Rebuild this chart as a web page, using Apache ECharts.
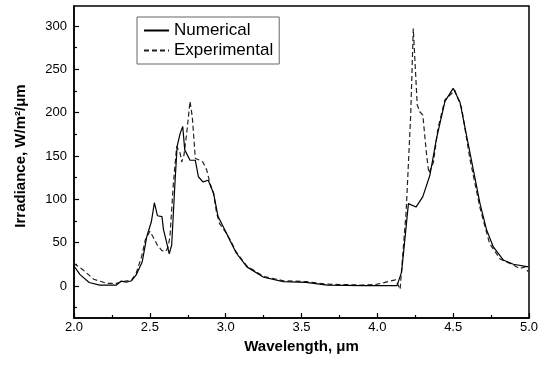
<!DOCTYPE html>
<html>
<head>
<meta charset="utf-8">
<script src="https://cdn.jsdelivr.net/npm/echarts@6/dist/echarts.min.js"></script>
<style>
html,body{margin:0;padding:0;background:#fff;}
#chart{width:544px;height:371px;}
</style>
</head>
<body>
<div id="chart"></div>
<script>
var numX = [2.00,2.04,2.10,2.17,2.28,2.31,2.35,2.38,2.41,2.45,2.48,2.51,2.53,2.55,2.58,2.59,2.615,2.628,2.644,2.666,2.68,2.70,2.717,2.73,2.765,2.80,2.82,2.85,2.885,2.92,2.95,2.985,3.03,3.07,3.14,3.25,3.38,3.53,3.67,3.90,4.13,4.16,4.205,4.255,4.30,4.347,4.39,4.446,4.50,4.545,4.59,4.633,4.677,4.72,4.765,4.83,4.897,4.995];
var numY = [23,13,4,1,1,5.5,4.5,6,12.7,28,57,74,96,81,80,65,47,37,47,120,161,176,184,157,145,145,126,120,122,107,80,68,52,38,22,10,5,4,1,0.4,0.4,16,95,91,103,128,170,213,228,212,172,134,95,65,45,30,25,22];
var expX = [2.00,2.06,2.13,2.215,2.28,2.325,2.38,2.41,2.446,2.47,2.50,2.52,2.55,2.58,2.607,2.62,2.633,2.655,2.677,2.70,2.71,2.725,2.743,2.765,2.78,2.80,2.83,2.85,2.875,2.897,2.92,2.94,2.96,3.00,3.03,3.07,3.14,3.25,3.38,3.53,3.67,3.90,4.00,4.12,4.15,4.19,4.22,4.237,4.263,4.28,4.30,4.325,4.34,4.37,4.40,4.446,4.49,4.51,4.556,4.61,4.677,4.74,4.81,4.875,4.94,4.97,4.995];
var expY = [26,18.5,7.7,3,3,5,7,14.6,34,53,63,57,47,40.7,40,45,57,118,161,153,143,151,176,213,195,147,145,143,134,118,107,84,72,62,53,39,23,11,6,5,2,1,2,7,-4,86,197,297,209,201,197,151,130,143,182,215,222,226,205,147,90,49,31,26,20,22,16.5];
var yMajorTicks = [0,50,100,150,200,250,300];
var yMinorTicks = [-25,25,75,125,175,225,275];
var seriesNames = ['Numerical','Experimental'];

function pairs(xs, ys){ return xs.map(function(x,i){ return [x, ys[i]]; }); }

var FONT = 'Liberation Sans, Arial, sans-serif';
var chart = echarts.init(document.getElementById('chart'), null, {renderer:'canvas'});
chart.setOption({
  animation:false,
  backgroundColor:'#fff',
  grid:{left:74,right:15,top:6,bottom:53,show:true,borderColor:'#000',borderWidth:1.5,backgroundColor:'transparent'},
  legend:{
    left:137, top:17, orient:'vertical',
    data:seriesNames,
    itemWidth:25, itemHeight:14, itemGap:3,
    padding:[5,6,5,6],
    borderColor:'#666', borderWidth:1,
    itemStyle:{opacity:0},
    textStyle:{fontFamily:FONT,fontSize:17,color:'#000'},
    inactiveColor:'#000'
  },
  xAxis:{
    type:'value', min:2, max:5, interval:0.5,
    name:'Wavelength, \u03bcm', nameLocation:'middle', nameGap:12,
    nameTextStyle:{fontFamily:FONT,fontSize:15,fontWeight:'bold',color:'#000'},
    axisLine:{show:true,onZero:false,lineStyle:{color:'#000',width:1.5}},
    axisTick:{show:true,inside:true,length:5,lineStyle:{color:'#000',width:1.2}},
    minorTick:{show:true,splitNumber:2,length:3,lineStyle:{color:'#000',width:1.2}},
    axisLabel:{fontFamily:FONT,fontSize:13,color:'#000',margin:3,formatter:function(v){return v.toFixed(1);}},
    splitLine:{show:false}
  },
  yAxis:[{
    type:'value', min:-37, max:323,
    name:'Irradiance, W/m\u00b2/\u03bcm', nameLocation:'middle', nameGap:46,
    nameTextStyle:{fontFamily:FONT,fontSize:15,fontWeight:'bold',color:'#000',padding:[0,0,0,12]},
    axisLine:{show:true,onZero:false,lineStyle:{color:'#000',width:1.5}},
    axisTick:{show:true,inside:true,length:5,customValues:yMajorTicks,lineStyle:{color:'#000',width:1.2}},
    axisLabel:{fontFamily:FONT,fontSize:13,color:'#000',margin:7,customValues:yMajorTicks},
    splitLine:{show:false}
  },{
    type:'value', min:-37, max:323, position:'left',
    axisLine:{show:false,onZero:false},
    axisTick:{show:true,inside:true,length:3,customValues:yMinorTicks,lineStyle:{color:'#000',width:1.2}},
    axisLabel:{show:false},
    splitLine:{show:false}
  }],
  series:[{
    name:seriesNames[0], type:'line', data:pairs(numX,numY), showSymbol:false, symbol:'none',
    lineStyle:{color:'#000',width:1.2,type:'solid'}, itemStyle:{color:'#000'}, z:3
  },{
    name:seriesNames[1], type:'line', data:pairs(expX,expY), showSymbol:false, symbol:'none',
    lineStyle:{color:'#222',width:1.2,type:[5,3]}, itemStyle:{color:'#222'}, z:2
  }]
});
</script>
</body>
</html>
